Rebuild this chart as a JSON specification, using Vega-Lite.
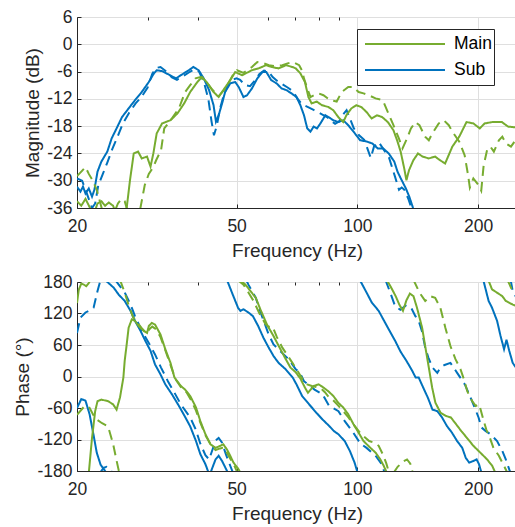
{
"$schema": "https://vega.github.io/schema/vega-lite/v6.json",
"background": "white",
"padding": {"left": 13, "top": 7, "right": 0, "bottom": 0},
"config": {
 "font": "Liberation Sans",
 "view": {"stroke": "#262626", "strokeWidth": 1},
 "axis": {"labelFontSize": 17.5, "titleFontSize": 19, "titleFontWeight": "normal", "labelColor": "#262626", "titleColor": "#262626", "domainColor": "#262626", "tickColor": "#262626", "gridColor": "#dfdfdf", "gridWidth": 1, "tickSize": -4, "labelFlush": false, "labelBound": false, "labelOverlap": false},
 "axisX": {"labelPadding": 13, "titlePadding": 7},
 "axisY": {"labelPadding": 9, "titlePadding": 4}
},
"bounds": "flush",
"spacing": 74,
"resolve": {"legend": {"color": "independent"}},
"datasets": {
"mag": [
{"s":"Sub","t":"solid","g":"a","f":20,"v":-31.3},{"s":"Sub","t":"solid","g":"a","f":20.4,"v":-32.4},{"s":"Sub","t":"solid","g":"a","f":20.7,"v":-31.3},{"s":"Sub","t":"solid","g":"a","f":21,"v":-32.8},{"s":"Sub","t":"solid","g":"a","f":21.4,"v":-31.7},{"s":"Sub","t":"solid","g":"a","f":21.8,"v":-33.5},{"s":"Sub","t":"solid","g":"a","f":22.1,"v":-32},{"s":"Sub","t":"solid","g":"a","f":22.5,"v":-28},{"s":"Sub","t":"solid","g":"a","f":23,"v":-25.8},{"s":"Sub","t":"solid","g":"a","f":23.8,"v":-23.6},{"s":"Sub","t":"solid","g":"a","f":24.4,"v":-20.7},{"s":"Sub","t":"solid","g":"a","f":25.1,"v":-18.5},{"s":"Sub","t":"solid","g":"a","f":25.9,"v":-16},{"s":"Sub","t":"solid","g":"a","f":26.9,"v":-14.1},{"s":"Sub","t":"solid","g":"a","f":27.9,"v":-12.3},{"s":"Sub","t":"solid","g":"a","f":29,"v":-10.5},{"s":"Sub","t":"solid","g":"a","f":30.2,"v":-8.3},{"s":"Sub","t":"solid","g":"a","f":31.1,"v":-6.4},{"s":"Sub","t":"solid","g":"a","f":31.6,"v":-5.7},{"s":"Sub","t":"solid","g":"a","f":32.6,"v":-5.9},{"s":"Sub","t":"solid","g":"a","f":34.1,"v":-6.8},{"s":"Sub","t":"solid","g":"a","f":35.3,"v":-7.5},{"s":"Sub","t":"solid","g":"a","f":36.3,"v":-6.8},{"s":"Sub","t":"solid","g":"a","f":38,"v":-5.7},{"s":"Sub","t":"solid","g":"a","f":39,"v":-5},{"s":"Sub","t":"solid","g":"a","f":40.2,"v":-5.7},{"s":"Sub","t":"solid","g":"a","f":41.4,"v":-7.5},{"s":"Sub","t":"solid","g":"a","f":42.7,"v":-10.1},{"s":"Sub","t":"solid","g":"a","f":43.8,"v":-13.4},{"s":"Sub","t":"solid","g":"a","f":44.4,"v":-17},{"s":"Sub","t":"solid","g":"a","f":45.1,"v":-15.6},{"s":"Sub","t":"solid","g":"a","f":46,"v":-13},{"s":"Sub","t":"solid","g":"a","f":46.8,"v":-10.5},{"s":"Sub","t":"solid","g":"a","f":48.2,"v":-8.6},{"s":"Sub","t":"solid","g":"a","f":49.6,"v":-8.3},{"s":"Sub","t":"solid","g":"a","f":50.6,"v":-9.4},{"s":"Sub","t":"solid","g":"a","f":52,"v":-11.6},{"s":"Sub","t":"solid","g":"a","f":53.1,"v":-11.2},{"s":"Sub","t":"solid","g":"a","f":54.6,"v":-9.7},{"s":"Sub","t":"solid","g":"a","f":56.3,"v":-7.5},{"s":"Sub","t":"solid","g":"a","f":58,"v":-6.1},{"s":"Sub","t":"solid","g":"a","f":59.3,"v":-6.1},{"s":"Sub","t":"solid","g":"a","f":61,"v":-7.9},{"s":"Sub","t":"solid","g":"a","f":62.9,"v":-8.6},{"s":"Sub","t":"solid","g":"a","f":64.7,"v":-9.7},{"s":"Sub","t":"solid","g":"a","f":66.6,"v":-10.1},{"s":"Sub","t":"solid","g":"a","f":68.5,"v":-10.8},{"s":"Sub","t":"solid","g":"a","f":70.5,"v":-11.6},{"s":"Sub","t":"solid","g":"a","f":72.1,"v":-13.4},{"s":"Sub","t":"solid","g":"a","f":73.6,"v":-15.6},{"s":"Sub","t":"solid","g":"a","f":75,"v":-18.5},{"s":"Sub","t":"solid","g":"a","f":76.4,"v":-19.2},{"s":"Sub","t":"solid","g":"a","f":77.8,"v":-18.1},{"s":"Sub","t":"solid","g":"a","f":79.3,"v":-18.5},{"s":"Sub","t":"solid","g":"a","f":80.9,"v":-17.4},{"s":"Sub","t":"solid","g":"a","f":83.2,"v":-15.6},{"s":"Sub","t":"solid","g":"a","f":84.7,"v":-16},{"s":"Sub","t":"solid","g":"a","f":87.1,"v":-16.7},{"s":"Sub","t":"solid","g":"a","f":89.6,"v":-17.1},{"s":"Sub","t":"solid","g":"a","f":92.2,"v":-16.7},{"s":"Sub","t":"solid","g":"a","f":94.9,"v":-17.8},{"s":"Sub","t":"solid","g":"a","f":97.8,"v":-19.2},{"s":"Sub","t":"solid","g":"a","f":101.6,"v":-21.1},{"s":"Sub","t":"solid","g":"a","f":105.6,"v":-21.4},{"s":"Sub","t":"solid","g":"a","f":108.9,"v":-21.8},{"s":"Sub","t":"solid","g":"a","f":112.4,"v":-22.9},{"s":"Sub","t":"solid","g":"a","f":116,"v":-22.9},{"s":"Sub","t":"solid","g":"a","f":119.7,"v":-24},{"s":"Sub","t":"solid","g":"a","f":123.6,"v":-25.8},{"s":"Sub","t":"solid","g":"a","f":125.9,"v":-28},{"s":"Sub","t":"solid","g":"a","f":128.3,"v":-29.5},{"s":"Sub","t":"solid","g":"a","f":132.1,"v":-31.7},{"s":"Sub","t":"solid","g":"a","f":134.7,"v":-33.5},{"s":"Sub","t":"solid","g":"a","f":137.3,"v":-35.7},{"s":"Sub","t":"solid","g":"a","f":138.5,"v":-37},
{"s":"Sub","t":"dashed","g":"b","f":20,"v":-29.5},{"s":"Sub","t":"dashed","g":"b","f":20.6,"v":-30},{"s":"Sub","t":"dashed","g":"b","f":21.2,"v":-33},{"s":"Sub","t":"dashed","g":"b","f":21.8,"v":-36},{"s":"Sub","t":"dashed","g":"b","f":22.2,"v":-35},{"s":"Sub","t":"dashed","g":"b","f":22.6,"v":-31},{"s":"Sub","t":"dashed","g":"b","f":23.2,"v":-28.5},{"s":"Sub","t":"dashed","g":"b","f":23.8,"v":-26},{"s":"Sub","t":"dashed","g":"b","f":24.5,"v":-23},{"s":"Sub","t":"dashed","g":"b","f":25.2,"v":-20.5},{"s":"Sub","t":"dashed","g":"b","f":26,"v":-17.5},{"s":"Sub","t":"dashed","g":"b","f":27,"v":-15},{"s":"Sub","t":"dashed","g":"b","f":28,"v":-13},{"s":"Sub","t":"dashed","g":"b","f":29,"v":-11.5},{"s":"Sub","t":"dashed","g":"b","f":30,"v":-9.5},{"s":"Sub","t":"dashed","g":"b","f":30.8,"v":-6.5},{"s":"Sub","t":"dashed","g":"b","f":31.5,"v":-5.2},{"s":"Sub","t":"dashed","g":"b","f":32.3,"v":-5},{"s":"Sub","t":"dashed","g":"b","f":33.2,"v":-5.8},{"s":"Sub","t":"dashed","g":"b","f":34.5,"v":-7.3},{"s":"Sub","t":"dashed","g":"b","f":35.5,"v":-7.8},{"s":"Sub","t":"dashed","g":"b","f":36.5,"v":-7.2},{"s":"Sub","t":"dashed","g":"b","f":38,"v":-6.2},{"s":"Sub","t":"dashed","g":"b","f":39.2,"v":-5.5},{"s":"Sub","t":"dashed","g":"b","f":40.3,"v":-6},{"s":"Sub","t":"dashed","g":"b","f":41.5,"v":-8.5},{"s":"Sub","t":"dashed","g":"b","f":42.5,"v":-12},{"s":"Sub","t":"dashed","g":"b","f":43.3,"v":-17},{"s":"Sub","t":"dashed","g":"b","f":43.9,"v":-20},{"s":"Sub","t":"dashed","g":"b","f":44.6,"v":-18},{"s":"Sub","t":"dashed","g":"b","f":45.5,"v":-14},{"s":"Sub","t":"dashed","g":"b","f":46.5,"v":-11},{"s":"Sub","t":"dashed","g":"b","f":47.5,"v":-9},{"s":"Sub","t":"dashed","g":"b","f":48.7,"v":-7.8},{"s":"Sub","t":"dashed","g":"b","f":50,"v":-7.5},{"s":"Sub","t":"dashed","g":"b","f":51,"v":-7.8},{"s":"Sub","t":"dashed","g":"b","f":52.5,"v":-9},{"s":"Sub","t":"dashed","g":"b","f":54,"v":-9.2},{"s":"Sub","t":"dashed","g":"b","f":55.5,"v":-8},{"s":"Sub","t":"dashed","g":"b","f":57,"v":-6.5},{"s":"Sub","t":"dashed","g":"b","f":58.5,"v":-5.8},{"s":"Sub","t":"dashed","g":"b","f":60,"v":-6},{"s":"Sub","t":"dashed","g":"b","f":61.5,"v":-7.2},{"s":"Sub","t":"dashed","g":"b","f":63,"v":-8},{"s":"Sub","t":"dashed","g":"b","f":65,"v":-8.8},{"s":"Sub","t":"dashed","g":"b","f":67,"v":-9.5},{"s":"Sub","t":"dashed","g":"b","f":69,"v":-10.3},{"s":"Sub","t":"dashed","g":"b","f":71,"v":-12},{"s":"Sub","t":"dashed","g":"b","f":72.5,"v":-13},{"s":"Sub","t":"dashed","g":"b","f":74,"v":-13.5},{"s":"Sub","t":"dashed","g":"b","f":76,"v":-14},{"s":"Sub","t":"dashed","g":"b","f":78,"v":-14.5},{"s":"Sub","t":"dashed","g":"b","f":80,"v":-15},{"s":"Sub","t":"dashed","g":"b","f":82,"v":-15.5},{"s":"Sub","t":"dashed","g":"b","f":84,"v":-16},{"s":"Sub","t":"dashed","g":"b","f":86,"v":-16.8},{"s":"Sub","t":"dashed","g":"b","f":88,"v":-17.5},{"s":"Sub","t":"dashed","g":"b","f":90,"v":-17},{"s":"Sub","t":"dashed","g":"b","f":92,"v":-15.5},{"s":"Sub","t":"dashed","g":"b","f":94,"v":-14.5},{"s":"Sub","t":"dashed","g":"b","f":96,"v":-16.5},{"s":"Sub","t":"dashed","g":"b","f":98,"v":-18.5},{"s":"Sub","t":"dashed","g":"b","f":101,"v":-20},{"s":"Sub","t":"dashed","g":"b","f":104,"v":-21},{"s":"Sub","t":"dashed","g":"b","f":106,"v":-23},{"s":"Sub","t":"dashed","g":"b","f":108,"v":-25},{"s":"Sub","t":"dashed","g":"b","f":110,"v":-22.5},{"s":"Sub","t":"dashed","g":"b","f":113,"v":-21.5},{"s":"Sub","t":"dashed","g":"b","f":116,"v":-23},{"s":"Sub","t":"dashed","g":"b","f":120,"v":-25},{"s":"Sub","t":"dashed","g":"b","f":124,"v":-29},{"s":"Sub","t":"dashed","g":"b","f":127,"v":-32},{"s":"Sub","t":"dashed","g":"b","f":129,"v":-31.5},{"s":"Sub","t":"dashed","g":"b","f":131,"v":-32},{"s":"Sub","t":"dashed","g":"b","f":134,"v":-34},{"s":"Sub","t":"dashed","g":"b","f":137,"v":-36.5},
{"s":"Main","t":"solid","g":"c","f":20,"v":-34.5},{"s":"Main","t":"solid","g":"c","f":20.5,"v":-35.5},{"s":"Main","t":"solid","g":"c","f":21,"v":-34},{"s":"Main","t":"solid","g":"c","f":21.5,"v":-35.8},{"s":"Main","t":"solid","g":"c","f":22,"v":-37.5},{"s":"Main","t":"solid","g":"c","f":22.5,"v":-35},{"s":"Main","t":"solid","g":"c","f":23,"v":-34.5},{"s":"Main","t":"solid","g":"c","f":23.5,"v":-35.5},{"s":"Main","t":"solid","g":"c","f":24,"v":-34.8},{"s":"Main","t":"solid","g":"c","f":24.6,"v":-35.5},{"s":"Main","t":"solid","g":"c","f":25.2,"v":-38},{"s":"Main","t":"solid","g":"c","f":26,"v":-38},{"s":"Main","t":"solid","g":"c","f":26.6,"v":-36},{"s":"Main","t":"solid","g":"c","f":27.1,"v":-30},{"s":"Main","t":"solid","g":"c","f":27.7,"v":-24},{"s":"Main","t":"solid","g":"c","f":28.4,"v":-23.6},{"s":"Main","t":"solid","g":"c","f":29,"v":-25.1},{"s":"Main","t":"solid","g":"c","f":29.9,"v":-24.7},{"s":"Main","t":"solid","g":"c","f":30.5,"v":-26.9},{"s":"Main","t":"solid","g":"c","f":31,"v":-24},{"s":"Main","t":"solid","g":"c","f":31.6,"v":-19.6},{"s":"Main","t":"solid","g":"c","f":32.6,"v":-17.4},{"s":"Main","t":"solid","g":"c","f":34.2,"v":-16.7},{"s":"Main","t":"solid","g":"c","f":35.6,"v":-15.2},{"s":"Main","t":"solid","g":"c","f":37,"v":-13},{"s":"Main","t":"solid","g":"c","f":38.3,"v":-10.5},{"s":"Main","t":"solid","g":"c","f":39.9,"v":-8.3},{"s":"Main","t":"solid","g":"c","f":41,"v":-7.2},{"s":"Main","t":"solid","g":"c","f":42.1,"v":-8.3},{"s":"Main","t":"solid","g":"c","f":43.8,"v":-10.5},{"s":"Main","t":"solid","g":"c","f":45.1,"v":-11.6},{"s":"Main","t":"solid","g":"c","f":46.3,"v":-10.1},{"s":"Main","t":"solid","g":"c","f":48.2,"v":-7.9},{"s":"Main","t":"solid","g":"c","f":49.6,"v":-6.1},{"s":"Main","t":"solid","g":"c","f":51.6,"v":-6.8},{"s":"Main","t":"solid","g":"c","f":54.6,"v":-5.7},{"s":"Main","t":"solid","g":"c","f":56.7,"v":-5.3},{"s":"Main","t":"solid","g":"c","f":59.2,"v":-4.6},{"s":"Main","t":"solid","g":"c","f":61.2,"v":-5},{"s":"Main","t":"solid","g":"c","f":63.6,"v":-5.3},{"s":"Main","t":"solid","g":"c","f":66.4,"v":-4.6},{"s":"Main","t":"solid","g":"c","f":68.9,"v":-5},{"s":"Main","t":"solid","g":"c","f":70.2,"v":-5.3},{"s":"Main","t":"solid","g":"c","f":72.1,"v":-6.4},{"s":"Main","t":"solid","g":"c","f":74,"v":-8.3},{"s":"Main","t":"solid","g":"c","f":75.5,"v":-11.6},{"s":"Main","t":"solid","g":"c","f":76.9,"v":-13},{"s":"Main","t":"solid","g":"c","f":79.2,"v":-12.6},{"s":"Main","t":"solid","g":"c","f":81.6,"v":-13.4},{"s":"Main","t":"solid","g":"c","f":84.7,"v":-13.8},{"s":"Main","t":"solid","g":"c","f":87.1,"v":-14.5},{"s":"Main","t":"solid","g":"c","f":89.6,"v":-16},{"s":"Main","t":"solid","g":"c","f":92.2,"v":-17.1},{"s":"Main","t":"solid","g":"c","f":93.9,"v":-15.6},{"s":"Main","t":"solid","g":"c","f":96.6,"v":-14.1},{"s":"Main","t":"solid","g":"c","f":99.4,"v":-13.4},{"s":"Main","t":"solid","g":"c","f":102.3,"v":-13.8},{"s":"Main","t":"solid","g":"c","f":105.4,"v":-14.9},{"s":"Main","t":"solid","g":"c","f":108.5,"v":-16.3},{"s":"Main","t":"solid","g":"c","f":111.9,"v":-15.6},{"s":"Main","t":"solid","g":"c","f":115.3,"v":-16},{"s":"Main","t":"solid","g":"c","f":119.1,"v":-17.1},{"s":"Main","t":"solid","g":"c","f":123,"v":-18.9},{"s":"Main","t":"solid","g":"c","f":125.6,"v":-21.1},{"s":"Main","t":"solid","g":"c","f":128.2,"v":-23.6},{"s":"Main","t":"solid","g":"c","f":131,"v":-27.5},{"s":"Main","t":"solid","g":"c","f":132.5,"v":-29.9},{"s":"Main","t":"solid","g":"c","f":134.5,"v":-27.7},{"s":"Main","t":"solid","g":"c","f":137.9,"v":-25.5},{"s":"Main","t":"solid","g":"c","f":141.6,"v":-24},{"s":"Main","t":"solid","g":"c","f":145.4,"v":-24.7},{"s":"Main","t":"solid","g":"c","f":150.7,"v":-25.1},{"s":"Main","t":"solid","g":"c","f":156.3,"v":-24.7},{"s":"Main","t":"solid","g":"c","f":160.7,"v":-25.5},{"s":"Main","t":"solid","g":"c","f":165.5,"v":-26.2},{"s":"Main","t":"solid","g":"c","f":172.5,"v":-22.5},{"s":"Main","t":"solid","g":"c","f":179.5,"v":-20.3},{"s":"Main","t":"solid","g":"c","f":187.1,"v":-17.1},{"s":"Main","t":"solid","g":"c","f":194.6,"v":-17.4},{"s":"Main","t":"solid","g":"c","f":201.9,"v":-18.5},{"s":"Main","t":"solid","g":"c","f":207.6,"v":-17.4},{"s":"Main","t":"solid","g":"c","f":217.2,"v":-17.1},{"s":"Main","t":"solid","g":"c","f":229.2,"v":-17.1},{"s":"Main","t":"solid","g":"c","f":237.5,"v":-18.1},{"s":"Main","t":"solid","g":"c","f":250,"v":-18.3},
{"s":"Main","t":"dashed","g":"d","f":20,"v":-29},{"s":"Main","t":"dashed","g":"d","f":20.5,"v":-28},{"s":"Main","t":"dashed","g":"d","f":21,"v":-27},{"s":"Main","t":"dashed","g":"d","f":21.4,"v":-28.5},{"s":"Main","t":"dashed","g":"d","f":21.9,"v":-30},{"s":"Main","t":"dashed","g":"d","f":22.4,"v":-32},{"s":"Main","t":"dashed","g":"d","f":22.8,"v":-34.5},{"s":"Main","t":"dashed","g":"d","f":23.2,"v":-37},{"s":"Main","t":"dashed","g":"d","f":24.5,"v":-38},{"s":"Main","t":"dashed","g":"d","f":25.3,"v":-35},{"s":"Main","t":"dashed","g":"d","f":25.8,"v":-34},{"s":"Main","t":"dashed","g":"d","f":26.3,"v":-34.5},{"s":"Main","t":"dashed","g":"d","f":26.8,"v":-37},{"s":"Main","t":"dashed","g":"d","f":28.5,"v":-38},{"s":"Main","t":"dashed","g":"d","f":29.5,"v":-31},{"s":"Main","t":"dashed","g":"d","f":30.2,"v":-28.5},{"s":"Main","t":"dashed","g":"d","f":31,"v":-27},{"s":"Main","t":"dashed","g":"d","f":31.5,"v":-25.5},{"s":"Main","t":"dashed","g":"d","f":32.4,"v":-23.3},{"s":"Main","t":"dashed","g":"d","f":33,"v":-18.5},{"s":"Main","t":"dashed","g":"d","f":34.5,"v":-16.3},{"s":"Main","t":"dashed","g":"d","f":35.9,"v":-14.1},{"s":"Main","t":"dashed","g":"d","f":37.2,"v":-10.5},{"s":"Main","t":"dashed","g":"d","f":38.3,"v":-9},{"s":"Main","t":"dashed","g":"d","f":39.5,"v":-7.5},{"s":"Main","t":"dashed","g":"d","f":40.6,"v":-7.2},{"s":"Main","t":"dashed","g":"d","f":41.8,"v":-8},{"s":"Main","t":"dashed","g":"d","f":43.5,"v":-10},{"s":"Main","t":"dashed","g":"d","f":45.1,"v":-11.4},{"s":"Main","t":"dashed","g":"d","f":46.9,"v":-9.7},{"s":"Main","t":"dashed","g":"d","f":48.9,"v":-6.8},{"s":"Main","t":"dashed","g":"d","f":50.1,"v":-5.7},{"s":"Main","t":"dashed","g":"d","f":52,"v":-6.3},{"s":"Main","t":"dashed","g":"d","f":54.6,"v":-5},{"s":"Main","t":"dashed","g":"d","f":56.3,"v":-3.9},{"s":"Main","t":"dashed","g":"d","f":58.5,"v":-4.2},{"s":"Main","t":"dashed","g":"d","f":60.2,"v":-4.6},{"s":"Main","t":"dashed","g":"d","f":62.5,"v":-4.8},{"s":"Main","t":"dashed","g":"d","f":65,"v":-4.6},{"s":"Main","t":"dashed","g":"d","f":67,"v":-4.2},{"s":"Main","t":"dashed","g":"d","f":69,"v":-3.9},{"s":"Main","t":"dashed","g":"d","f":71.6,"v":-4.6},{"s":"Main","t":"dashed","g":"d","f":72.8,"v":-5.8},{"s":"Main","t":"dashed","g":"d","f":73.6,"v":-7.5},{"s":"Main","t":"dashed","g":"d","f":75,"v":-9.7},{"s":"Main","t":"dashed","g":"d","f":76.4,"v":-11.6},{"s":"Main","t":"dashed","g":"d","f":78,"v":-11.2},{"s":"Main","t":"dashed","g":"d","f":80.1,"v":-10.8},{"s":"Main","t":"dashed","g":"d","f":82.3,"v":-11.2},{"s":"Main","t":"dashed","g":"d","f":85.6,"v":-12.3},{"s":"Main","t":"dashed","g":"d","f":88.8,"v":-12.6},{"s":"Main","t":"dashed","g":"d","f":91.4,"v":-10.5},{"s":"Main","t":"dashed","g":"d","f":94.9,"v":-9.4},{"s":"Main","t":"dashed","g":"d","f":97.8,"v":-9.4},{"s":"Main","t":"dashed","g":"d","f":100.7,"v":-10.5},{"s":"Main","t":"dashed","g":"d","f":103.6,"v":-10.8},{"s":"Main","t":"dashed","g":"d","f":106.7,"v":-11.2},{"s":"Main","t":"dashed","g":"d","f":111,"v":-11.9},{"s":"Main","t":"dashed","g":"d","f":115.7,"v":-12.3},{"s":"Main","t":"dashed","g":"d","f":119.1,"v":-14.9},{"s":"Main","t":"dashed","g":"d","f":123,"v":-17.8},{"s":"Main","t":"dashed","g":"d","f":126.9,"v":-20.7},{"s":"Main","t":"dashed","g":"d","f":129.6,"v":-22.9},{"s":"Main","t":"dashed","g":"d","f":133,"v":-20.7},{"s":"Main","t":"dashed","g":"d","f":136,"v":-18.5},{"s":"Main","t":"dashed","g":"d","f":139.5,"v":-17.1},{"s":"Main","t":"dashed","g":"d","f":142.8,"v":-17.8},{"s":"Main","t":"dashed","g":"d","f":147.5,"v":-20.3},{"s":"Main","t":"dashed","g":"d","f":150.7,"v":-21.1},{"s":"Main","t":"dashed","g":"d","f":153.1,"v":-19.9},{"s":"Main","t":"dashed","g":"d","f":159.5,"v":-17.4},{"s":"Main","t":"dashed","g":"d","f":164.2,"v":-16.7},{"s":"Main","t":"dashed","g":"d","f":169,"v":-17.8},{"s":"Main","t":"dashed","g":"d","f":172.5,"v":-19.2},{"s":"Main","t":"dashed","g":"d","f":179.5,"v":-21.4},{"s":"Main","t":"dashed","g":"d","f":185.1,"v":-24.4},{"s":"Main","t":"dashed","g":"d","f":188.8,"v":-28.8},{"s":"Main","t":"dashed","g":"d","f":190.7,"v":-31.5},{"s":"Main","t":"dashed","g":"d","f":194.6,"v":-29.5},{"s":"Main","t":"dashed","g":"d","f":200.5,"v":-31},{"s":"Main","t":"dashed","g":"d","f":203.6,"v":-32.2},{"s":"Main","t":"dashed","g":"d","f":206.4,"v":-26.7},{"s":"Main","t":"dashed","g":"d","f":210.5,"v":-23.3},{"s":"Main","t":"dashed","g":"d","f":214.6,"v":-22.5},{"s":"Main","t":"dashed","g":"d","f":218.9,"v":-23.6},{"s":"Main","t":"dashed","g":"d","f":225.3,"v":-21.1},{"s":"Main","t":"dashed","g":"d","f":229.8,"v":-20.3},{"s":"Main","t":"dashed","g":"d","f":234.4,"v":-21.8},{"s":"Main","t":"dashed","g":"d","f":241.5,"v":-22.5},{"s":"Main","t":"dashed","g":"d","f":246.5,"v":-21.4},{"s":"Main","t":"dashed","g":"d","f":250,"v":-22.5}
],
"phase": [
{"s":"Sub","t":"solid","g":"S1","f":20,"v":-60},{"s":"Sub","t":"solid","g":"S1","f":20.5,"v":-43},{"s":"Sub","t":"solid","g":"S1","f":21,"v":-46},{"s":"Sub","t":"solid","g":"S1","f":21.5,"v":-72},{"s":"Sub","t":"solid","g":"S1","f":22,"v":-112},{"s":"Sub","t":"solid","g":"S1","f":22.4,"v":-145},{"s":"Sub","t":"solid","g":"S1","f":22.9,"v":-168},{"s":"Sub","t":"solid","g":"S1","f":23.4,"v":-178},{"s":"Sub","t":"solid","g":"S1","f":23.7,"v":-184},
{"s":"Sub","t":"solid","g":"S2","f":23.5,"v":184},{"s":"Sub","t":"solid","g":"S2","f":24.7,"v":169},{"s":"Sub","t":"solid","g":"S2","f":25.4,"v":156},{"s":"Sub","t":"solid","g":"S2","f":26.3,"v":144},{"s":"Sub","t":"solid","g":"S2","f":27.2,"v":125},{"s":"Sub","t":"solid","g":"S2","f":27.9,"v":106},{"s":"Sub","t":"solid","g":"S2","f":28.8,"v":87},{"s":"Sub","t":"solid","g":"S2","f":29.6,"v":68},{"s":"Sub","t":"solid","g":"S2","f":30.5,"v":49},{"s":"Sub","t":"solid","g":"S2","f":31.3,"v":23},{"s":"Sub","t":"solid","g":"S2","f":32.3,"v":4},{"s":"Sub","t":"solid","g":"S2","f":33.2,"v":-15},{"s":"Sub","t":"solid","g":"S2","f":34.5,"v":-34},{"s":"Sub","t":"solid","g":"S2","f":35.9,"v":-56},{"s":"Sub","t":"solid","g":"S2","f":37.2,"v":-77},{"s":"Sub","t":"solid","g":"S2","f":38.3,"v":-95},{"s":"Sub","t":"solid","g":"S2","f":39.6,"v":-123},{"s":"Sub","t":"solid","g":"S2","f":40.6,"v":-148},{"s":"Sub","t":"solid","g":"S2","f":41.8,"v":-167},{"s":"Sub","t":"solid","g":"S2","f":42.6,"v":-184},
{"s":"Sub","t":"solid","g":"S3","f":43,"v":-184},{"s":"Sub","t":"solid","g":"S3","f":44.3,"v":-158},{"s":"Sub","t":"solid","g":"S3","f":45.1,"v":-151},{"s":"Sub","t":"solid","g":"S3","f":46,"v":-161},{"s":"Sub","t":"solid","g":"S3","f":46.9,"v":-174},{"s":"Sub","t":"solid","g":"S3","f":47.6,"v":-184},
{"s":"Sub","t":"solid","g":"S4","f":47.3,"v":184},{"s":"Sub","t":"solid","g":"S4","f":48.9,"v":156},{"s":"Sub","t":"solid","g":"S4","f":50.4,"v":131},{"s":"Sub","t":"solid","g":"S4","f":51.1,"v":125},{"s":"Sub","t":"solid","g":"S4","f":52,"v":128},{"s":"Sub","t":"solid","g":"S4","f":53.5,"v":122},{"s":"Sub","t":"solid","g":"S4","f":54.9,"v":115},{"s":"Sub","t":"solid","g":"S4","f":56.6,"v":96},{"s":"Sub","t":"solid","g":"S4","f":58.3,"v":74},{"s":"Sub","t":"solid","g":"S4","f":60.1,"v":55},{"s":"Sub","t":"solid","g":"S4","f":61.8,"v":39},{"s":"Sub","t":"solid","g":"S4","f":63.6,"v":26},{"s":"Sub","t":"solid","g":"S4","f":66.3,"v":13.5},{"s":"Sub","t":"solid","g":"S4","f":69,"v":-2},{"s":"Sub","t":"solid","g":"S4","f":70.5,"v":-15},{"s":"Sub","t":"solid","g":"S4","f":72.8,"v":-37},{"s":"Sub","t":"solid","g":"S4","f":75.8,"v":-53},{"s":"Sub","t":"solid","g":"S4","f":79,"v":-69},{"s":"Sub","t":"solid","g":"S4","f":81.9,"v":-82},{"s":"Sub","t":"solid","g":"S4","f":85,"v":-94},{"s":"Sub","t":"solid","g":"S4","f":87.4,"v":-104},{"s":"Sub","t":"solid","g":"S4","f":89.7,"v":-110},{"s":"Sub","t":"solid","g":"S4","f":93,"v":-123},{"s":"Sub","t":"solid","g":"S4","f":95.8,"v":-142},{"s":"Sub","t":"solid","g":"S4","f":98.4,"v":-164},{"s":"Sub","t":"solid","g":"S4","f":100.2,"v":-184},
{"s":"Sub","t":"solid","g":"S5","f":101.4,"v":184},{"s":"Sub","t":"solid","g":"S5","f":105.4,"v":160},{"s":"Sub","t":"solid","g":"S5","f":108.6,"v":141},{"s":"Sub","t":"solid","g":"S5","f":113,"v":125},{"s":"Sub","t":"solid","g":"S5","f":116.6,"v":106},{"s":"Sub","t":"solid","g":"S5","f":120.3,"v":87},{"s":"Sub","t":"solid","g":"S5","f":124.2,"v":68},{"s":"Sub","t":"solid","g":"S5","f":128.2,"v":47},{"s":"Sub","t":"solid","g":"S5","f":132.5,"v":30},{"s":"Sub","t":"solid","g":"S5","f":137.2,"v":10},{"s":"Sub","t":"solid","g":"S5","f":139.7,"v":-2},{"s":"Sub","t":"solid","g":"S5","f":142.2,"v":-2},{"s":"Sub","t":"solid","g":"S5","f":145.9,"v":-21},{"s":"Sub","t":"solid","g":"S5","f":149.8,"v":-40},{"s":"Sub","t":"solid","g":"S5","f":153.9,"v":-63},{"s":"Sub","t":"solid","g":"S5","f":158.2,"v":-66},{"s":"Sub","t":"solid","g":"S5","f":162.6,"v":-78},{"s":"Sub","t":"solid","g":"S5","f":167.1,"v":-94},{"s":"Sub","t":"solid","g":"S5","f":172.1,"v":-107},{"s":"Sub","t":"solid","g":"S5","f":177.3,"v":-123},{"s":"Sub","t":"solid","g":"S5","f":182.6,"v":-136},{"s":"Sub","t":"solid","g":"S5","f":186.3,"v":-155},{"s":"Sub","t":"solid","g":"S5","f":190,"v":-164},{"s":"Sub","t":"solid","g":"S5","f":194.6,"v":-161},{"s":"Sub","t":"solid","g":"S5","f":198.3,"v":-158},{"s":"Sub","t":"solid","g":"S5","f":201,"v":-167},{"s":"Sub","t":"solid","g":"S5","f":204,"v":-184},
{"s":"Sub","t":"solid","g":"S6","f":206,"v":184},{"s":"Sub","t":"solid","g":"S6","f":212.4,"v":144},{"s":"Sub","t":"solid","g":"S6","f":216.6,"v":131},{"s":"Sub","t":"solid","g":"S6","f":223,"v":106},{"s":"Sub","t":"solid","g":"S6","f":227.5,"v":77},{"s":"Sub","t":"solid","g":"S6","f":232.1,"v":52},{"s":"Sub","t":"solid","g":"S6","f":235.4,"v":70},{"s":"Sub","t":"solid","g":"S6","f":239.1,"v":49},{"s":"Sub","t":"solid","g":"S6","f":243.9,"v":26},{"s":"Sub","t":"solid","g":"S6","f":250,"v":14},
{"s":"Sub","t":"dashed","g":"T1","f":20,"v":83},{"s":"Sub","t":"dashed","g":"T1","f":20.4,"v":112},{"s":"Sub","t":"dashed","g":"T1","f":21,"v":122},{"s":"Sub","t":"dashed","g":"T1","f":21.4,"v":125},{"s":"Sub","t":"dashed","g":"T1","f":22,"v":131},{"s":"Sub","t":"dashed","g":"T1","f":22.5,"v":163},{"s":"Sub","t":"dashed","g":"T1","f":22.9,"v":184},
{"s":"Sub","t":"dashed","g":"T2","f":22.8,"v":-184},{"s":"Sub","t":"dashed","g":"T2","f":23.3,"v":-174},{"s":"Sub","t":"dashed","g":"T2","f":23.7,"v":-172},{"s":"Sub","t":"dashed","g":"T2","f":24.2,"v":-177},{"s":"Sub","t":"dashed","g":"T2","f":24.5,"v":-184},
{"s":"Sub","t":"dashed","g":"T3","f":24.9,"v":184},{"s":"Sub","t":"dashed","g":"T3","f":26.3,"v":160},{"s":"Sub","t":"dashed","g":"T3","f":27.2,"v":137},{"s":"Sub","t":"dashed","g":"T3","f":27.9,"v":115},{"s":"Sub","t":"dashed","g":"T3","f":29,"v":87},{"s":"Sub","t":"dashed","g":"T3","f":30.2,"v":64},{"s":"Sub","t":"dashed","g":"T3","f":31.3,"v":42},{"s":"Sub","t":"dashed","g":"T3","f":32.4,"v":17},{"s":"Sub","t":"dashed","g":"T3","f":33.7,"v":-9},{"s":"Sub","t":"dashed","g":"T3","f":35,"v":-31},{"s":"Sub","t":"dashed","g":"T3","f":36.3,"v":-53},{"s":"Sub","t":"dashed","g":"T3","f":38.3,"v":-78},{"s":"Sub","t":"dashed","g":"T3","f":39.5,"v":-100},{"s":"Sub","t":"dashed","g":"T3","f":40.6,"v":-128},{"s":"Sub","t":"dashed","g":"T3","f":41.8,"v":-150},{"s":"Sub","t":"dashed","g":"T3","f":42.7,"v":-158},{"s":"Sub","t":"dashed","g":"T3","f":43.5,"v":-140},{"s":"Sub","t":"dashed","g":"T3","f":44.3,"v":-122},{"s":"Sub","t":"dashed","g":"T3","f":45.1,"v":-117},{"s":"Sub","t":"dashed","g":"T3","f":46,"v":-126},{"s":"Sub","t":"dashed","g":"T3","f":47,"v":-148},{"s":"Sub","t":"dashed","g":"T3","f":48.2,"v":-170},{"s":"Sub","t":"dashed","g":"T3","f":49,"v":-184},
{"s":"Sub","t":"dashed","g":"T4","f":52.8,"v":184},{"s":"Sub","t":"dashed","g":"T4","f":53.5,"v":175},{"s":"Sub","t":"dashed","g":"T4","f":55.8,"v":150},{"s":"Sub","t":"dashed","g":"T4","f":57.5,"v":120},{"s":"Sub","t":"dashed","g":"T4","f":58.8,"v":100},{"s":"Sub","t":"dashed","g":"T4","f":60.1,"v":80},{"s":"Sub","t":"dashed","g":"T4","f":61.8,"v":61},{"s":"Sub","t":"dashed","g":"T4","f":64.9,"v":45},{"s":"Sub","t":"dashed","g":"T4","f":67.4,"v":33},{"s":"Sub","t":"dashed","g":"T4","f":70.2,"v":13.5},{"s":"Sub","t":"dashed","g":"T4","f":71.8,"v":8},{"s":"Sub","t":"dashed","g":"T4","f":73.6,"v":-9},{"s":"Sub","t":"dashed","g":"T4","f":78.2,"v":-25},{"s":"Sub","t":"dashed","g":"T4","f":81.9,"v":-34},{"s":"Sub","t":"dashed","g":"T4","f":85,"v":-56},{"s":"Sub","t":"dashed","g":"T4","f":89.7,"v":-66},{"s":"Sub","t":"dashed","g":"T4","f":93,"v":-85},{"s":"Sub","t":"dashed","g":"T4","f":97.7,"v":-107},{"s":"Sub","t":"dashed","g":"T4","f":101.6,"v":-127},{"s":"Sub","t":"dashed","g":"T4","f":105.4,"v":-136},{"s":"Sub","t":"dashed","g":"T4","f":111,"v":-151},{"s":"Sub","t":"dashed","g":"T4","f":115.7,"v":-170},{"s":"Sub","t":"dashed","g":"T4","f":116.8,"v":-184},
{"s":"Sub","t":"dashed","g":"T5","f":117.5,"v":184},{"s":"Sub","t":"dashed","g":"T5","f":121,"v":158},{"s":"Sub","t":"dashed","g":"T5","f":124.2,"v":134},{"s":"Sub","t":"dashed","g":"T5","f":128,"v":127},{"s":"Sub","t":"dashed","g":"T5","f":132,"v":135},{"s":"Sub","t":"dashed","g":"T5","f":136,"v":132},{"s":"Sub","t":"dashed","g":"T5","f":139.5,"v":115},{"s":"Sub","t":"dashed","g":"T5","f":142.2,"v":106},{"s":"Sub","t":"dashed","g":"T5","f":144.8,"v":87},{"s":"Sub","t":"dashed","g":"T5","f":147.6,"v":55},{"s":"Sub","t":"dashed","g":"T5","f":150.3,"v":36},{"s":"Sub","t":"dashed","g":"T5","f":153.9,"v":17},{"s":"Sub","t":"dashed","g":"T5","f":158.2,"v":7},{"s":"Sub","t":"dashed","g":"T5","f":161,"v":17},{"s":"Sub","t":"dashed","g":"T5","f":165,"v":22},{"s":"Sub","t":"dashed","g":"T5","f":170.6,"v":26},{"s":"Sub","t":"dashed","g":"T5","f":177.3,"v":7},{"s":"Sub","t":"dashed","g":"T5","f":185.3,"v":-15},{"s":"Sub","t":"dashed","g":"T5","f":190,"v":-34},{"s":"Sub","t":"dashed","g":"T5","f":194.6,"v":-53},{"s":"Sub","t":"dashed","g":"T5","f":200.5,"v":-78},{"s":"Sub","t":"dashed","g":"T5","f":203.8,"v":-97},{"s":"Sub","t":"dashed","g":"T5","f":209,"v":-104},{"s":"Sub","t":"dashed","g":"T5","f":214.6,"v":-110},{"s":"Sub","t":"dashed","g":"T5","f":223,"v":-123},{"s":"Sub","t":"dashed","g":"T5","f":229.8,"v":-142},{"s":"Sub","t":"dashed","g":"T5","f":234.4,"v":-158},{"s":"Sub","t":"dashed","g":"T5","f":239.1,"v":-177},{"s":"Sub","t":"dashed","g":"T5","f":241,"v":-184},
{"s":"Sub","t":"dashed","g":"T6","f":241,"v":184},{"s":"Sub","t":"dashed","g":"T6","f":243.9,"v":163},{"s":"Sub","t":"dashed","g":"T6","f":250,"v":148},
{"s":"Main","t":"solid","g":"G1","f":20,"v":140},{"s":"Main","t":"solid","g":"G1","f":20.2,"v":165},{"s":"Main","t":"solid","g":"G1","f":20.5,"v":177},{"s":"Main","t":"solid","g":"G1","f":20.8,"v":175},{"s":"Main","t":"solid","g":"G1","f":21.1,"v":172},{"s":"Main","t":"solid","g":"G1","f":21.4,"v":178},{"s":"Main","t":"solid","g":"G1","f":21.6,"v":184},
{"s":"Main","t":"solid","g":"G2","f":21.4,"v":-184},{"s":"Main","t":"solid","g":"G2","f":21.8,"v":-117},{"s":"Main","t":"solid","g":"G2","f":22.2,"v":-66},{"s":"Main","t":"solid","g":"G2","f":22.5,"v":-47},{"s":"Main","t":"solid","g":"G2","f":23,"v":-44},{"s":"Main","t":"solid","g":"G2","f":23.9,"v":-47},{"s":"Main","t":"solid","g":"G2","f":24.6,"v":-53},{"s":"Main","t":"solid","g":"G2","f":25.1,"v":-63},{"s":"Main","t":"solid","g":"G2","f":25.6,"v":-40},{"s":"Main","t":"solid","g":"G2","f":26.1,"v":-2},{"s":"Main","t":"solid","g":"G2","f":26.3,"v":30},{"s":"Main","t":"solid","g":"G2","f":26.6,"v":61},{"s":"Main","t":"solid","g":"G2","f":26.9,"v":93},{"s":"Main","t":"solid","g":"G2","f":27.4,"v":109},{"s":"Main","t":"solid","g":"G2","f":27.9,"v":106},{"s":"Main","t":"solid","g":"G2","f":28.5,"v":96},{"s":"Main","t":"solid","g":"G2","f":29.3,"v":87},{"s":"Main","t":"solid","g":"G2","f":29.9,"v":83},{"s":"Main","t":"solid","g":"G2","f":30.2,"v":96},{"s":"Main","t":"solid","g":"G2","f":30.7,"v":102},{"s":"Main","t":"solid","g":"G2","f":31.3,"v":99},{"s":"Main","t":"solid","g":"G2","f":32.3,"v":80},{"s":"Main","t":"solid","g":"G2","f":33.2,"v":52},{"s":"Main","t":"solid","g":"G2","f":34.2,"v":26},{"s":"Main","t":"solid","g":"G2","f":35,"v":-2},{"s":"Main","t":"solid","g":"G2","f":36.3,"v":-18},{"s":"Main","t":"solid","g":"G2","f":37.2,"v":-25},{"s":"Main","t":"solid","g":"G2","f":38.3,"v":-37},{"s":"Main","t":"solid","g":"G2","f":39.6,"v":-59},{"s":"Main","t":"solid","g":"G2","f":40.6,"v":-85},{"s":"Main","t":"solid","g":"G2","f":41.8,"v":-110},{"s":"Main","t":"solid","g":"G2","f":43,"v":-129},{"s":"Main","t":"solid","g":"G2","f":44.3,"v":-136},{"s":"Main","t":"solid","g":"G2","f":45.5,"v":-132},{"s":"Main","t":"solid","g":"G2","f":46.3,"v":-129},{"s":"Main","t":"solid","g":"G2","f":47.3,"v":-139},{"s":"Main","t":"solid","g":"G2","f":48.2,"v":-151},{"s":"Main","t":"solid","g":"G2","f":49.1,"v":-164},{"s":"Main","t":"solid","g":"G2","f":50.6,"v":-177},{"s":"Main","t":"solid","g":"G2","f":51.1,"v":-184},
{"s":"Main","t":"solid","g":"G3","f":50.9,"v":184},{"s":"Main","t":"solid","g":"G3","f":52.6,"v":175},{"s":"Main","t":"solid","g":"G3","f":54.1,"v":163},{"s":"Main","t":"solid","g":"G3","f":55.8,"v":150},{"s":"Main","t":"solid","g":"G3","f":57.3,"v":128},{"s":"Main","t":"solid","g":"G3","f":59.5,"v":99},{"s":"Main","t":"solid","g":"G3","f":61.8,"v":77},{"s":"Main","t":"solid","g":"G3","f":64.3,"v":52},{"s":"Main","t":"solid","g":"G3","f":66.3,"v":33},{"s":"Main","t":"solid","g":"G3","f":68.1,"v":17},{"s":"Main","t":"solid","g":"G3","f":70.2,"v":8},{"s":"Main","t":"solid","g":"G3","f":72.1,"v":-4},{"s":"Main","t":"solid","g":"G3","f":74,"v":-21},{"s":"Main","t":"solid","g":"G3","f":75.3,"v":-31},{"s":"Main","t":"solid","g":"G3","f":77.8,"v":-18},{"s":"Main","t":"solid","g":"G3","f":80.1,"v":-15},{"s":"Main","t":"solid","g":"G3","f":82.3,"v":-21},{"s":"Main","t":"solid","g":"G3","f":84.6,"v":-28},{"s":"Main","t":"solid","g":"G3","f":87.1,"v":-37},{"s":"Main","t":"solid","g":"G3","f":89.6,"v":-50},{"s":"Main","t":"solid","g":"G3","f":92.2,"v":-59},{"s":"Main","t":"solid","g":"G3","f":94.9,"v":-72},{"s":"Main","t":"solid","g":"G3","f":97.8,"v":-91},{"s":"Main","t":"solid","g":"G3","f":100.7,"v":-107},{"s":"Main","t":"solid","g":"G3","f":103.6,"v":-123},{"s":"Main","t":"solid","g":"G3","f":107.8,"v":-136},{"s":"Main","t":"solid","g":"G3","f":111,"v":-145},{"s":"Main","t":"solid","g":"G3","f":114.1,"v":-158},{"s":"Main","t":"solid","g":"G3","f":116.3,"v":-170},{"s":"Main","t":"solid","g":"G3","f":118.5,"v":-184},
{"s":"Main","t":"solid","g":"G4","f":118.3,"v":184},{"s":"Main","t":"solid","g":"G4","f":120.9,"v":172},{"s":"Main","t":"solid","g":"G4","f":124.6,"v":153},{"s":"Main","t":"solid","g":"G4","f":127.2,"v":137},{"s":"Main","t":"solid","g":"G4","f":129.9,"v":125},{"s":"Main","t":"solid","g":"G4","f":132.5,"v":145},{"s":"Main","t":"solid","g":"G4","f":135.2,"v":158},{"s":"Main","t":"solid","g":"G4","f":138,"v":153},{"s":"Main","t":"solid","g":"G4","f":140.8,"v":131},{"s":"Main","t":"solid","g":"G4","f":145,"v":93},{"s":"Main","t":"solid","g":"G4","f":147.8,"v":55},{"s":"Main","t":"solid","g":"G4","f":150.7,"v":17},{"s":"Main","t":"solid","g":"G4","f":153.6,"v":-21},{"s":"Main","t":"solid","g":"G4","f":156.5,"v":-50},{"s":"Main","t":"solid","g":"G4","f":161.2,"v":-69},{"s":"Main","t":"solid","g":"G4","f":166.1,"v":-75},{"s":"Main","t":"solid","g":"G4","f":171,"v":-78},{"s":"Main","t":"solid","g":"G4","f":176.3,"v":-91},{"s":"Main","t":"solid","g":"G4","f":181.6,"v":-104},{"s":"Main","t":"solid","g":"G4","f":187.1,"v":-116},{"s":"Main","t":"solid","g":"G4","f":194.6,"v":-132},{"s":"Main","t":"solid","g":"G4","f":202.5,"v":-145},{"s":"Main","t":"solid","g":"G4","f":210.6,"v":-158},{"s":"Main","t":"solid","g":"G4","f":216.8,"v":-170},{"s":"Main","t":"solid","g":"G4","f":221,"v":-184},
{"s":"Main","t":"solid","g":"G5","f":212,"v":184},{"s":"Main","t":"solid","g":"G5","f":216.6,"v":166},{"s":"Main","t":"solid","g":"G5","f":229.8,"v":153},{"s":"Main","t":"solid","g":"G5","f":234.4,"v":144},{"s":"Main","t":"solid","g":"G5","f":243.9,"v":137},{"s":"Main","t":"solid","g":"G5","f":250,"v":134},
{"s":"Main","t":"dashed","g":"M1","f":20,"v":-73},{"s":"Main","t":"dashed","g":"M1","f":20.8,"v":-58},{"s":"Main","t":"dashed","g":"M1","f":21.4,"v":-57},{"s":"Main","t":"dashed","g":"M1","f":22.2,"v":-80},{"s":"Main","t":"dashed","g":"M1","f":23.1,"v":-89},{"s":"Main","t":"dashed","g":"M1","f":23.9,"v":-95},{"s":"Main","t":"dashed","g":"M1","f":24.6,"v":-128},{"s":"Main","t":"dashed","g":"M1","f":25.1,"v":-160},{"s":"Main","t":"dashed","g":"M1","f":25.5,"v":-184},
{"s":"Main","t":"dashed","g":"M2","f":25.6,"v":184},{"s":"Main","t":"dashed","g":"M2","f":26.3,"v":160},{"s":"Main","t":"dashed","g":"M2","f":27,"v":132},{"s":"Main","t":"dashed","g":"M2","f":27.6,"v":113},{"s":"Main","t":"dashed","g":"M2","f":28.2,"v":104},{"s":"Main","t":"dashed","g":"M2","f":29,"v":92},{"s":"Main","t":"dashed","g":"M2","f":29.8,"v":82},{"s":"Main","t":"dashed","g":"M2","f":30.3,"v":90},{"s":"Main","t":"dashed","g":"M2","f":30.8,"v":95},{"s":"Main","t":"dashed","g":"M2","f":31.5,"v":90},{"s":"Main","t":"dashed","g":"M2","f":32.3,"v":75},{"s":"Main","t":"dashed","g":"M2","f":33.2,"v":50},{"s":"Main","t":"dashed","g":"M2","f":34.2,"v":22},{"s":"Main","t":"dashed","g":"M2","f":35.2,"v":-5},{"s":"Main","t":"dashed","g":"M2","f":36.3,"v":-20},{"s":"Main","t":"dashed","g":"M2","f":37.5,"v":-30},{"s":"Main","t":"dashed","g":"M2","f":38.5,"v":-45},{"s":"Main","t":"dashed","g":"M2","f":39.6,"v":-65},{"s":"Main","t":"dashed","g":"M2","f":40.6,"v":-88},{"s":"Main","t":"dashed","g":"M2","f":41.8,"v":-112},{"s":"Main","t":"dashed","g":"M2","f":43,"v":-128},{"s":"Main","t":"dashed","g":"M2","f":44.3,"v":-140},{"s":"Main","t":"dashed","g":"M2","f":45.5,"v":-137},{"s":"Main","t":"dashed","g":"M2","f":46.5,"v":-135},{"s":"Main","t":"dashed","g":"M2","f":47.5,"v":-148},{"s":"Main","t":"dashed","g":"M2","f":48.5,"v":-160},{"s":"Main","t":"dashed","g":"M2","f":49.5,"v":-172},{"s":"Main","t":"dashed","g":"M2","f":50.3,"v":-184},
{"s":"Main","t":"dashed","g":"M3","f":50.3,"v":184},{"s":"Main","t":"dashed","g":"M3","f":52,"v":175},{"s":"Main","t":"dashed","g":"M3","f":53.5,"v":160},{"s":"Main","t":"dashed","g":"M3","f":55,"v":145},{"s":"Main","t":"dashed","g":"M3","f":57,"v":120},{"s":"Main","t":"dashed","g":"M3","f":59,"v":100},{"s":"Main","t":"dashed","g":"M3","f":60,"v":95},{"s":"Main","t":"dashed","g":"M3","f":61.5,"v":95},{"s":"Main","t":"dashed","g":"M3","f":63,"v":75},{"s":"Main","t":"dashed","g":"M3","f":65,"v":55},{"s":"Main","t":"dashed","g":"M3","f":67,"v":40},{"s":"Main","t":"dashed","g":"M3","f":69,"v":25},{"s":"Main","t":"dashed","g":"M3","f":71,"v":10},{"s":"Main","t":"dashed","g":"M3","f":73,"v":-5},{"s":"Main","t":"dashed","g":"M3","f":75,"v":-15},{"s":"Main","t":"dashed","g":"M3","f":77,"v":-18},{"s":"Main","t":"dashed","g":"M3","f":79,"v":-20},{"s":"Main","t":"dashed","g":"M3","f":81,"v":-22},{"s":"Main","t":"dashed","g":"M3","f":83,"v":-30},{"s":"Main","t":"dashed","g":"M3","f":85,"v":-40},{"s":"Main","t":"dashed","g":"M3","f":87,"v":-45},{"s":"Main","t":"dashed","g":"M3","f":89.5,"v":-55},{"s":"Main","t":"dashed","g":"M3","f":92,"v":-65},{"s":"Main","t":"dashed","g":"M3","f":95,"v":-78},{"s":"Main","t":"dashed","g":"M3","f":98,"v":-92},{"s":"Main","t":"dashed","g":"M3","f":101,"v":-105},{"s":"Main","t":"dashed","g":"M3","f":104,"v":-115},{"s":"Main","t":"dashed","g":"M3","f":107,"v":-123},{"s":"Main","t":"dashed","g":"M3","f":111,"v":-127},{"s":"Main","t":"dashed","g":"M3","f":113,"v":-132},{"s":"Main","t":"dashed","g":"M3","f":116,"v":-150},{"s":"Main","t":"dashed","g":"M3","f":118,"v":-165},{"s":"Main","t":"dashed","g":"M3","f":120,"v":-184},
{"s":"Main","t":"dashed","g":"M5","f":123,"v":-184},{"s":"Main","t":"dashed","g":"M5","f":126,"v":-172},{"s":"Main","t":"dashed","g":"M5","f":130,"v":-162},{"s":"Main","t":"dashed","g":"M5","f":133,"v":-158},{"s":"Main","t":"dashed","g":"M5","f":135.5,"v":-166},{"s":"Main","t":"dashed","g":"M5","f":137.5,"v":-184},
{"s":"Main","t":"dashed","g":"M6","f":138,"v":184},{"s":"Main","t":"dashed","g":"M6","f":142.8,"v":160},{"s":"Main","t":"dashed","g":"M6","f":147.6,"v":144},{"s":"Main","t":"dashed","g":"M6","f":152.1,"v":153},{"s":"Main","t":"dashed","g":"M6","f":156.3,"v":150},{"s":"Main","t":"dashed","g":"M6","f":161,"v":131},{"s":"Main","t":"dashed","g":"M6","f":165.7,"v":93},{"s":"Main","t":"dashed","g":"M6","f":170.6,"v":58},{"s":"Main","t":"dashed","g":"M6","f":175.6,"v":33},{"s":"Main","t":"dashed","g":"M6","f":180.7,"v":14},{"s":"Main","t":"dashed","g":"M6","f":184.3,"v":-5},{"s":"Main","t":"dashed","g":"M6","f":187.9,"v":-28},{"s":"Main","t":"dashed","g":"M6","f":193.3,"v":-47},{"s":"Main","t":"dashed","g":"M6","f":197.2,"v":-56},{"s":"Main","t":"dashed","g":"M6","f":201.2,"v":-53},{"s":"Main","t":"dashed","g":"M6","f":205.4,"v":-78},{"s":"Main","t":"dashed","g":"M6","f":209.6,"v":-101},{"s":"Main","t":"dashed","g":"M6","f":214,"v":-117},{"s":"Main","t":"dashed","g":"M6","f":218.4,"v":-136},{"s":"Main","t":"dashed","g":"M6","f":225.3,"v":-151},{"s":"Main","t":"dashed","g":"M6","f":229.8,"v":-164},{"s":"Main","t":"dashed","g":"M6","f":234.4,"v":-177},{"s":"Main","t":"dashed","g":"M6","f":236.7,"v":-184},
{"s":"Main","t":"dashed","g":"M7","f":236.7,"v":184},{"s":"Main","t":"dashed","g":"M7","f":242,"v":168},{"s":"Main","t":"dashed","g":"M7","f":250,"v":158}
]
},
"vconcat": [
 {
  "width": 440, "height": 191,
  "data": {"name": "mag"},
  "layer": [
   {"mark": {"type": "line", "clip": true, "strokeWidth": 2},
    "encoding": {
     "x": {"field": "f", "type": "quantitative", "scale": {"type": "log", "domain": [20, 250], "nice": false},
           "axis": {"values": [20, 50, 100, 200], "format": "d", "title": "Frequency (Hz)"}},
     "y": {"field": "v", "type": "quantitative", "scale": {"domain": [-36, 6], "nice": false, "zero": false},
           "axis": {"values": [6, 0, -6, -12, -18, -24, -30, -36], "labelExpr": "'' + datum.value", "title": "Magnitude (dB)"}},
     "color": {"field": "s", "type": "nominal", "scale": {"domain": ["Main", "Sub"], "range": ["#77AC30", "#0072BD"]},
               "legend": {"title": null, "orient": "none", "legendX": 280, "legendY": 12, "direction": "vertical", "strokeColor": "#262626", "fillColor": "#ffffff", "padding": 2, "symbolType": "stroke", "symbolSize": 6400, "symbolStrokeWidth": 2, "clipHeight": 26, "symbolOffset": 5, "labelOffset": 8, "labelAlign": "left", "labelFontSize": 17.5, "labelColor": "#000000", "rowPadding": 0}},
     "strokeDash": {"field": "t", "type": "nominal", "scale": {"domain": ["solid", "dashed"], "range": [[1, 0], [10, 6]]}, "legend": null},
     "detail": {"field": "g"}
    }},
   {"mark": {"type": "point", "opacity": 0},
    "encoding": {
     "x": {"field": "f", "type": "quantitative", "axis": {"values": [30, 40, 60, 70, 80, 90], "labels": false, "domain": false, "title": null, "gridDash": [1, 3], "gridColor": "#b4b4b4", "tickSize": -3}},
     "y": {"field": "v", "type": "quantitative", "axis": null}
    }}
  ],
  "resolve": {"axis": {"x": "independent", "y": "independent"}}
 },
 {
  "width": 440, "height": 189,
  "data": {"name": "phase"},
  "layer": [
   {"mark": {"type": "line", "clip": true, "strokeWidth": 2},
    "encoding": {
     "x": {"field": "f", "type": "quantitative", "scale": {"type": "log", "domain": [20, 250], "nice": false},
           "axis": {"values": [20, 50, 100, 200], "format": "d", "title": "Frequency (Hz)"}},
     "y": {"field": "v", "type": "quantitative", "scale": {"domain": [-180, 180], "nice": false, "zero": false},
           "axis": {"values": [180, 120, 60, 0, -60, -120, -180], "labelExpr": "'' + datum.value", "title": "Phase (°)"}},
     "color": {"field": "s", "type": "nominal", "scale": {"domain": ["Main", "Sub"], "range": ["#77AC30", "#0072BD"]}, "legend": null},
     "strokeDash": {"field": "t", "type": "nominal", "scale": {"domain": ["solid", "dashed"], "range": [[1, 0], [10, 6]]}, "legend": null},
     "detail": {"field": "g"}
    }},
   {"mark": {"type": "point", "opacity": 0},
    "encoding": {
     "x": {"field": "f", "type": "quantitative", "axis": {"values": [30, 40, 60, 70, 80, 90], "labels": false, "domain": false, "title": null, "gridDash": [1, 3], "gridColor": "#b4b4b4", "tickSize": -3}},
     "y": {"field": "v", "type": "quantitative", "axis": null}
    }}
  ],
  "resolve": {"axis": {"x": "independent", "y": "independent"}}
 }
]
}
